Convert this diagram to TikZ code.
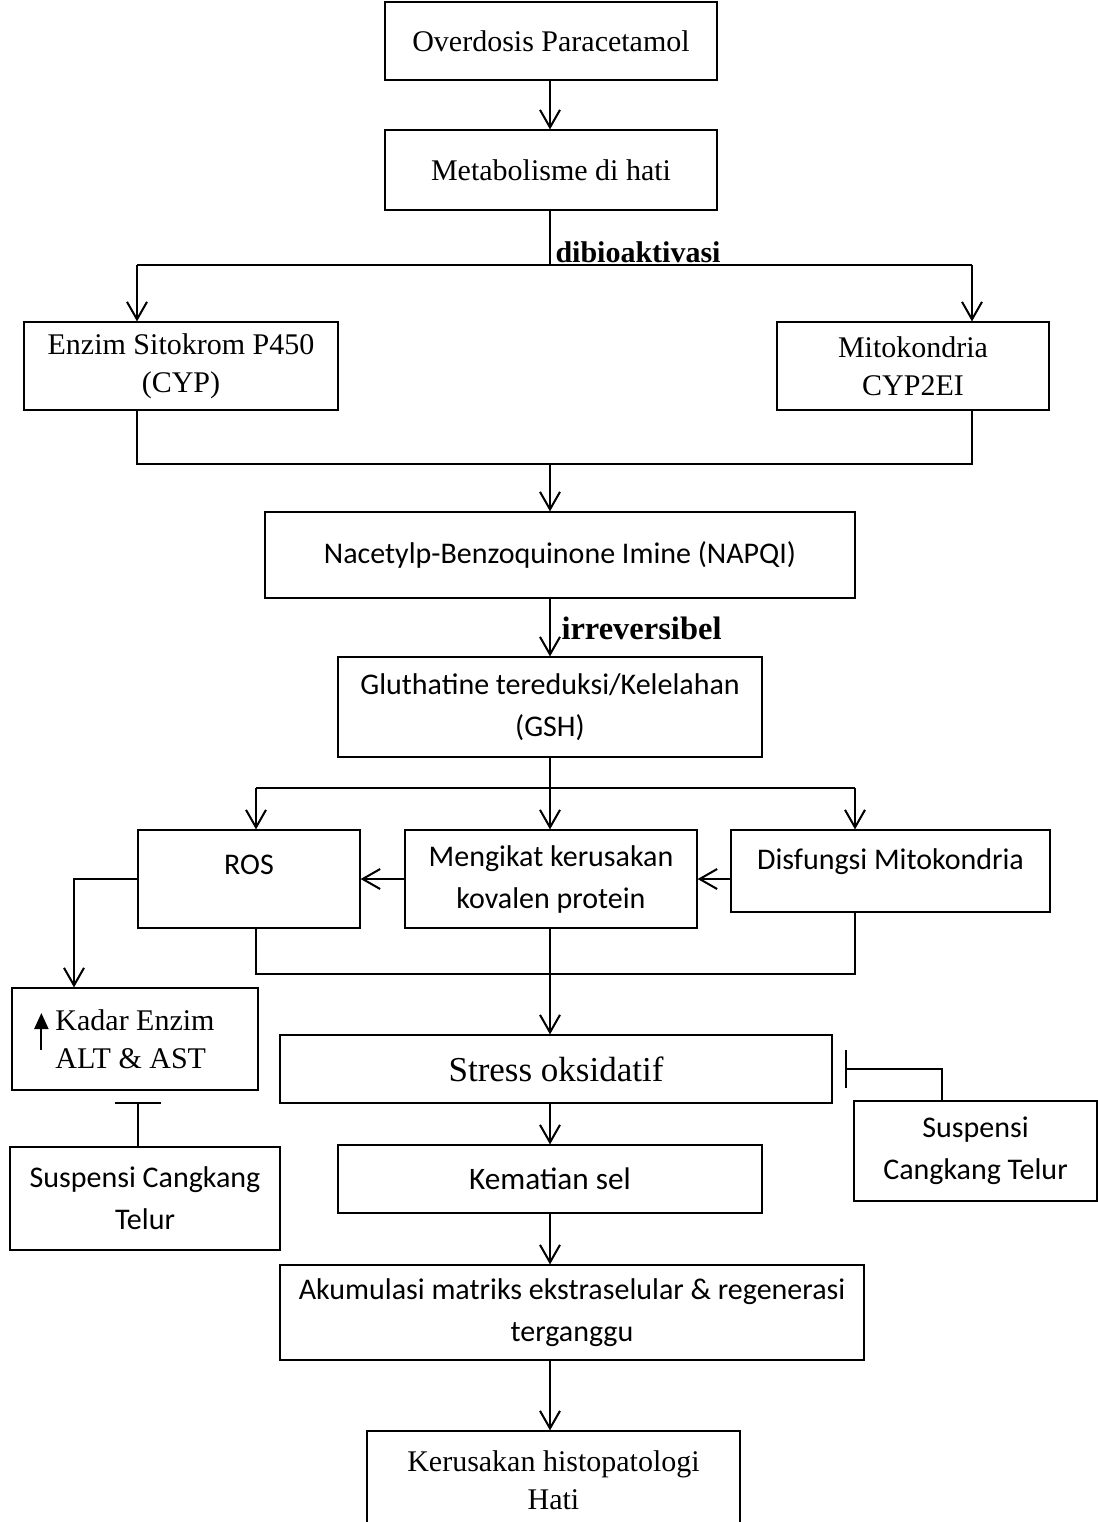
\documentclass[tikz,border=0pt]{standalone}
\usepackage{fontspec}
\setmainfont{Liberation Serif}
\newfontfamily\carlito{Carlito}
\usetikzlibrary{arrows.meta}
\tikzset{
	box/.style={draw, line width=0.5pt, inner sep=0pt, align=center},
	serif/.style={font=\fontsize{12}{15.2}\selectfont},
	sans/.style={font=\carlito\fontsize{12}{16.8}\selectfont},
	flow/.style={-{Straight Barb[length=7pt,width=8pt]}, line width=0.8pt},
	link/.style={line width=0.8pt},
	stopper/.style={-{Bar[width=#1]}, line width=0.8pt},
	uptip/.style={-{Triangle[length=6.4pt,width=5.6pt]}, line width=0.8pt}
}

\begin{document}
\begin{tikzpicture}[x=0.4pt, y=-0.4pt]
		\useasboundingbox (0,0) rectangle (1098,1522);
		\clip (0,0) rectangle (1098,1522);
		% блоки
		\node [box, serif, minimum width=132.8pt, minimum height=31.2pt] (over) at (551,41) {Overdosis Paracetamol};
		\node [box, serif, minimum width=132.8pt, minimum height=32pt] (metab) at (551,170) {Metabolisme di hati};
		\node [box, serif, minimum width=125.6pt, minimum height=35.2pt] (enzim) at (181,366) {Enzim Sitokrom P450\\(CYP)};
		\node [box, serif, minimum width=108.8pt, minimum height=35.2pt] (mito) at (913,366) {Mitokondria\\CYP2EI};
		\node [box, sans, minimum width=236pt, minimum height=34.4pt] (napqi) at (560,555) {Nacetylp-Benzoquinone Imine (NAPQI)};
		\node [box, sans, minimum width=169.6pt, minimum height=40pt] (gsh) at (550,707) {Gluthatine tereduksi/Kelelahan\\(GSH)};
		\node [box, sans, minimum width=88.8pt, text height=17.8pt, text depth=21.4pt] (ros) at (249,879) {ROS};
		\node [box, sans, minimum width=116.8pt, minimum height=39.2pt] (ikat) at (551,879) {Mengikat kerusakan\\kovalen protein};
		\node [box, sans, minimum width=127.6pt, text height=15.8pt, text depth=17pt] (disf) at (890.5,871) {Disfungsi Mitokondria};
		\node [box, serif, align=left, minimum width=98.4pt, minimum height=40.8pt] (kadar) at (135,1039) {Kadar Enzim\\ALT \& AST};
		\node [box, sans, minimum width=108pt, minimum height=41.2pt] (susL) at (145,1198.5) {Suspensi Cangkang\\Telur};
		\node [box, font=\fontsize{14}{17}\selectfont, minimum width=220.8pt, minimum height=27.2pt] (stress) at (556,1069) {Stress oksidatif};
		\node [box, sans, minimum width=97.2pt, minimum height=40pt] (susR) at (975.5,1151) {Suspensi\\Cangkang Telur};
		\node [box, sans, font=\carlito\fontsize{12.5}{15}\selectfont, minimum width=169.6pt, minimum height=27.2pt] (mati) at (550,1179) {Kematian sel};
		\node [box, sans, minimum width=233.6pt, minimum height=38pt] (akum) at (572,1312.5) {Akumulasi matriks ekstraselular \& regenerasi\\terganggu};
		\node [box, serif, minimum width=149.2pt, minimum height=39.2pt] (rusak) at (553.5,1480) {Kerusakan histopatologi\\Hati};
		% подписи
		\node [anchor=west, inner sep=0pt, font=\bfseries\fontsize{12}{14}\selectfont] (bioakt) at (555,252) {dibioaktivasi};
		\node [anchor=west, inner sep=0pt, font=\bfseries\fontsize{13}{15}\selectfont] (irrev) at (561,628) {irreversibel};
		% узлы ветвления
		\coordinate (s1) at (550,265);
		\coordinate (s1l) at (137,265);
		\coordinate (s1r) at (972,265);
		\coordinate (j1) at (550,464);
		\coordinate (j1l) at (137,464);
		\coordinate (j1r) at (972,464);
		\coordinate (s2) at (550,788);
		\coordinate (s2l) at (256,788);
		\coordinate (s2r) at (855,788);
		\coordinate (j2l) at (256,974);
		\coordinate (j2r) at (855,974);
		\coordinate (rk) at (74,879);
		% стрелки
		\draw [flow] (s1 |- over.south) -- (s1 |- metab.north);
		\draw [link] (s1 |- metab.south) -- (s1);
		\draw [link] (s1l) -- (s1r);
		\draw [flow] (s1l) -- (s1l |- enzim.north);
		\draw [flow] (s1r) -- (s1r |- mito.north);
		\draw [link] (s1l |- enzim.south) -- (j1l) -- (j1r) -- (s1r |- mito.south);
		\draw [flow] (j1) -- (j1 |- napqi.north);
		\draw [flow] (j1 |- napqi.south) -- (gsh.north);
		\draw [link] (gsh.south) -- (s2);
		\draw [link] (s2l) -- (s2r);
		\draw [flow] (s2l) -- (s2l |- ros.north);
		\draw [flow] (s2) -- (s2 |- ikat.north);
		\draw [flow] (s2r) -- (s2r |- disf.north);
		\draw [flow] (ikat.west) -- (ikat.west -| ros.east);
		\draw [flow] (disf.west |- ikat.east) -- (ikat.east);
		\draw [flow] (ros.west) -- (rk) -- (rk |- kadar.north);
		\draw [link] (s2l |- ros.south) -- (j2l) -- (j2r) -- (s2r |- disf.south);
		\draw [flow] (s2 |- ikat.south) -- (s2 |- stress.north);
		\draw [flow] (s2 |- stress.south) -- (mati.north);
		\draw [flow] (mati.south) -- (mati.south |- akum.north);
		\draw [flow] (mati.south |- akum.south) -- (mati.south |- rusak.north);
		\draw [uptip] ([shift={(12pt,-4.4pt)}]kadar.west) -- ([shift={(12pt,10.4pt)}]kadar.west);
		% подавление
		\draw [stopper=18.4pt, shorten >=4.4pt] ([xshift=-2.8pt]susL.north) -- ([xshift=-2.8pt]susL.north |- kadar.south);
		\draw [stopper=15pt, shorten >=4.8pt] ([xshift=-13.4pt]susR.north) |- (stress.east);
\end{tikzpicture}
\end{document}
